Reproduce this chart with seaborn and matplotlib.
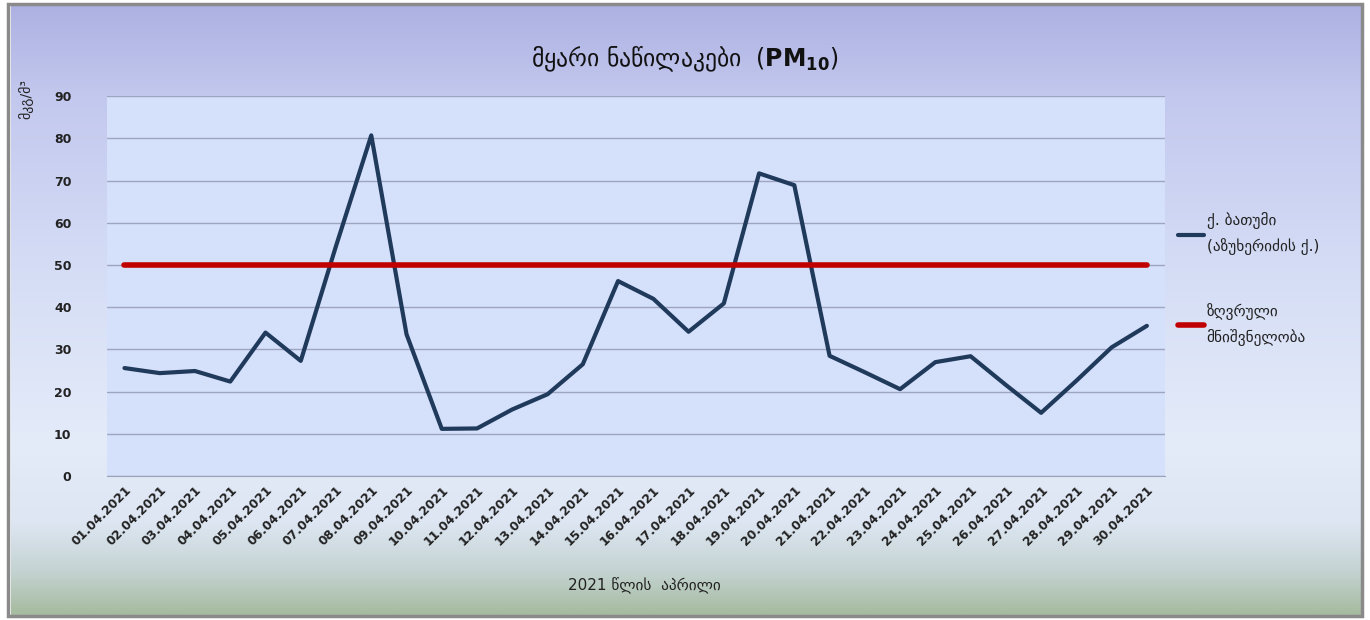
import numpy as np
import pandas as pd
import matplotlib
matplotlib.use("Agg")
import matplotlib.pyplot as plt
from matplotlib.colors import LinearSegmentedColormap
from matplotlib.patches import Rectangle
import seaborn as sns

# data
dates = ["01.04.2021", "02.04.2021", "03.04.2021", "04.04.2021", "05.04.2021", "06.04.2021",
         "07.04.2021", "08.04.2021", "09.04.2021", "10.04.2021", "11.04.2021", "12.04.2021",
         "13.04.2021", "14.04.2021", "15.04.2021", "16.04.2021", "17.04.2021", "18.04.2021",
         "19.04.2021", "20.04.2021", "21.04.2021", "22.04.2021", "23.04.2021", "24.04.2021",
         "25.04.2021", "26.04.2021", "27.04.2021", "28.04.2021", "29.04.2021", "30.04.2021"]
batumi = [25.6, 24.4, 24.9, 22.4, 34.0, 27.3, 54.5, 80.7, 33.6, 11.2, 11.3, 15.8,
          19.4, 26.5, 46.2, 42.0, 34.2, 40.9, 71.7, 68.9, 28.5, 24.6, 20.6, 27.0,
          28.4, 21.6, 15.0, 22.6, 30.5, 35.6]
limit_value = 50

series_name = "ქ. ბათუმი\n(აზუხერიძის ქ.)"
limit_name = "ზღვრული\nმნიშვნელობა"

df = pd.DataFrame({"date": dates, "value": batumi})
df["pos"] = range(len(dates))
df_limit = pd.DataFrame({"pos": df["pos"], "value": [limit_value] * len(dates)})

sns.set_style("white")
plt.rcParams['font.family'] = ['DejaVu Sans']

fig = plt.figure(figsize=(13.7, 6.2), dpi=100)

# gradient background of the chart area
bg = fig.add_axes([0.008, 0.008, 0.985, 0.984], zorder=0)
cmap = LinearSegmentedColormap.from_list("bg", [
    (0.0, "#adb1e2"), (0.15, "#c3c8ee"), (0.45, "#d6def6"), (0.72, "#e4ebf9"),
    (0.85, "#dde6f2"), (0.93, "#c4d3d2"), (1.0, "#a6bb9f")])
bg.imshow(np.linspace(0, 1, 256).reshape(-1, 1), aspect="auto", cmap=cmap,
          extent=[0, 1, 0, 1])
bg.set_axis_off()
fig.patches.append(Rectangle((0.006, 0.006), 0.988, 0.988, transform=fig.transFigure,
                             fill=False, edgecolor="#8a8a8a", linewidth=2.5))

ax = fig.add_axes([0.078, 0.232, 0.772, 0.613], zorder=1)
ax.set_facecolor("#d5e0fb")

sns.lineplot(data=df, x="pos", y="value", ax=ax, color="#203a5c", linewidth=3,
             label=series_name)
sns.lineplot(data=df_limit, x="pos", y="value", ax=ax, color="#c00000", linewidth=4,
             label=limit_name)

ax.set_xlim(-0.5, len(dates) - 0.5)
ax.set_ylim(0, 90)
ax.set_yticks(range(0, 91, 10))
ax.yaxis.grid(True, color="#9ea5c0", linewidth=1)
ax.set_xticks(df["pos"])
ax.set_xticklabels(dates, rotation=45, ha="right", rotation_mode="anchor",
                   fontsize=8.8, fontweight="bold", color="#222222")
for lab in ax.get_yticklabels():
    lab.set_fontweight("bold")
    lab.set_fontsize(9)
    lab.set_color("#222222")
ax.tick_params(axis="y", pad=22)
ax.tick_params(axis="x", pad=2)
for s in ["top", "right"]:
    ax.spines[s].set_visible(False)
ax.spines["left"].set_visible(False)
ax.spines["bottom"].set_color("#9aa3b8")
ax.set_xlabel("")
ax.set_ylabel("")

fig.text(0.5, 0.905, r"მყარი ნაწილაკები  ($\mathbf{PM}_{\mathbf{10}}$)", ha="center",
         va="center", fontsize=17, color="#111111")
fig.text(0.019, 0.84, "მკგ/მ³", rotation=90, ha="center", va="center",
         fontsize=10, color="#222222")
fig.text(0.47, 0.055, "2021 წლის  აპრილი", ha="center", va="center",
         fontsize=11, color="#222222")

leg = ax.legend(loc="upper left", bbox_to_anchor=(1.0, 0.73), frameon=False,
                handlelength=1.7, handletextpad=0.15, labelspacing=3.1, fontsize=11)
for t in leg.get_texts():
    t.set_color("#222222")
    t.set_linespacing(1.7)

fig.savefig("out.png", dpi=100)
